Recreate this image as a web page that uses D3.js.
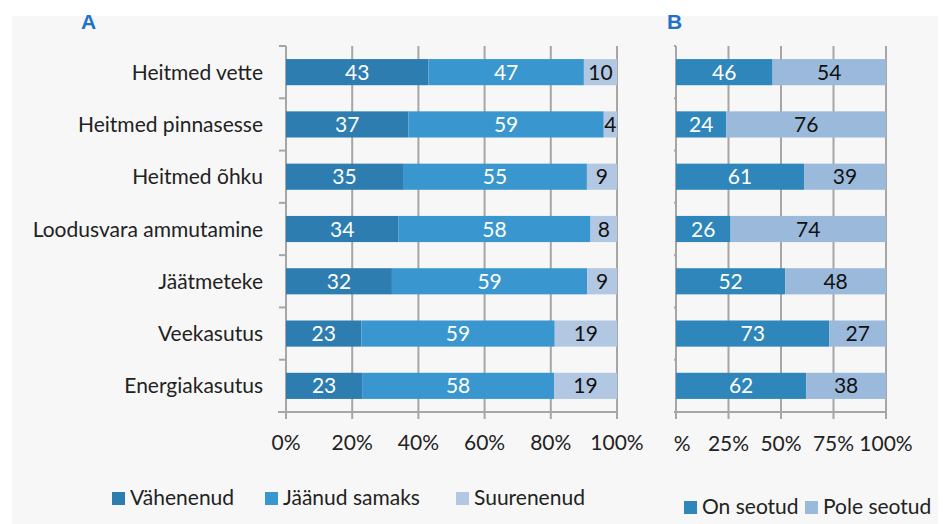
<!DOCTYPE html>
<html>
<head>
<meta charset="utf-8">
<script src="https://cdn.jsdelivr.net/npm/d3@7"></script>
<style>
  body { margin: 0; background: #fff; }
  svg { display: block; font-family: Lato, sans-serif; }
</style>
</head>
<body>
<div class="chart"></div>
<script>
var categories = ["Heitmed vette", "Heitmed pinnasesse", "Heitmed õhku ", "Loodusvara ammutamine",
                  "Jäätmeteke", "Veekasutus", "Energiakasutus"];
var decreased = [43, 37, 35, 34, 32, 23, 23];
var unchanged = [47, 59, 55, 58, 59, 59, 58];
var increased = [10, 4, 9, 8, 9, 19, 19];
var linked = [46, 24, 61, 26, 52, 73, 62];
var notLinked = [54, 76, 39, 74, 48, 27, 38];
var seriesA = ["Vähenenud", "Jäänud samaks", "Suurenenud"];
var seriesB = ["On seotud", "Pole seotud"];
var ticksA = [0, 0.2, 0.4, 0.6, 0.8, 1];
var ticksB = [0, 0.25, 0.5, 0.75, 1];

var colorsA = ["#2d7db0", "#3a96ce", "#b2c7e2"];
var colorsB = ["#2e86bb", "#9bb9db"];
var textA = ["#fff", "#fff", "#111"];
var textB = ["#fff", "#111"];
var fs = 21;

var svg = d3.select(".chart")
  .append("svg")
  .attr("width", 943)
  .attr("height", 524);

// gray panel
svg.append("rect")
  .attr("x", 12).attr("y", 16)
  .attr("width", 926).attr("height", 508)
  .attr("fill", "#f7f7f7");

var y = d3.scaleBand()
  .domain(categories)
  .range([46, 412])
  .paddingInner(0.5)
  .paddingOuter(0.25);

var yEdges = d3.scaleBand().domain(categories).range([46, 412]);

function rows(cols, keys) {
  return categories.map(function(c, i) {
    var r = { cat: c };
    keys.forEach(function(k, j) { r[k] = cols[j][i]; });
    return r;
  });
}

function drawPanel(g, opts) {
  var x = d3.scaleLinear().domain([0, 1]).range([opts.x0, opts.x1]);
  var data = rows(opts.cols, opts.keys);
  var stacked = d3.stack().keys(opts.keys).offset(d3.stackOffsetExpand)(data);

  // gridlines
  g.selectAll(".grid")
    .data(opts.ticks)
    .enter().append("line")
    .attr("x1", function(d) { return x(d); })
    .attr("x2", function(d) { return x(d); })
    .attr("y1", 46).attr("y2", 419)
    .attr("stroke", "#a6a6a6").attr("stroke-width", 2);

  // bottom axis line
  g.append("line")
    .attr("x1", opts.x0 - 8).attr("x2", opts.x1)
    .attr("y1", 412).attr("y2", 412)
    .attr("stroke", "#a6a6a6").attr("stroke-width", 2);

  // left axis tick stubs
  var edges = categories.map(function(c) { return yEdges(c); }).concat([412]);
  g.selectAll(".ytick")
    .data(edges)
    .enter().append("line")
    .attr("x1", opts.x0 - 7).attr("x2", opts.x0)
    .attr("y1", function(d) { return d; })
    .attr("y2", function(d) { return d; })
    .attr("stroke", "#a6a6a6").attr("stroke-width", 2);

  var layer = g.selectAll(".layer")
    .data(stacked)
    .enter().append("g")
    .attr("fill", function(d, i) { return opts.colors[i]; });

  layer.selectAll("rect")
    .data(function(d) { return d; })
    .enter().append("rect")
    .attr("x", function(d) { return x(d[0]); })
    .attr("y", function(d) { return y(d.data.cat); })
    .attr("width", function(d) { return x(d[1]) - x(d[0]); })
    .attr("height", y.bandwidth());

  stacked.forEach(function(s, i) {
    g.selectAll(".lbl" + i)
      .data(s)
      .enter().append("text")
      .attr("x", function(d) { return (x(d[0]) + x(d[1])) / 2; })
      .attr("y", function(d) { return y(d.data.cat) + y.bandwidth() / 2 + 7.5; })
      .attr("text-anchor", "middle")
      .attr("font-size", fs)
      .attr("fill", opts.textColors[i])
      .text(function(d) { return d.data[s.key]; });
  });

  // x tick labels
  g.selectAll(".xlbl")
    .data(opts.ticks)
    .enter().append("text")
    .attr("x", function(d) { return x(d); })
    .attr("y", opts.tickY)
    .attr("text-anchor", "middle")
    .attr("font-size", fs)
    .attr("fill", "#222")
    .text(function(d) { return Math.round(d * 100) + "%"; });

  // legend
  var leg = g.selectAll(".leg")
    .data(opts.keys)
    .enter().append("g")
    .attr("transform", function(d, i) { return "translate(" + opts.legendX[i] + "," + opts.legendY + ")"; });
  leg.append("rect")
    .attr("x", 0).attr("y", -13)
    .attr("width", 13).attr("height", 13)
    .attr("fill", function(d, i) { return opts.colors[i]; });
  leg.append("text")
    .attr("x", 18).attr("y", 0)
    .attr("font-size", fs)
    .attr("fill", "#222")
    .text(function(d) { return d; });
}

// category labels
svg.selectAll(".cat")
  .data(categories)
  .enter().append("text")
  .attr("x", 263)
  .attr("y", function(d) { return y(d) + y.bandwidth() / 2 + 7.5; })
  .attr("text-anchor", "end")
  .attr("font-size", fs)
  .attr("fill", "#222")
  .text(function(d) { return d; });

// panel letters
svg.selectAll(".letter")
  .data([["A", 81], ["B", 667]])
  .enter().append("text")
  .attr("x", function(d) { return d[1]; })
  .attr("y", 29)
  .attr("font-size", 21).attr("font-weight", "bold")
  .attr("fill", "#1f72c4")
  .attr("font-family", "'Liberation Sans', sans-serif")
  .text(function(d) { return d[0]; });

drawPanel(svg.append("g"), {
  x0: 286, x1: 617, cols: [decreased, unchanged, increased], keys: seriesA,
  colors: colorsA, textColors: textA, ticks: ticksA, tickY: 450,
  legendX: [112, 265, 456], legendY: 505
});

svg.append("clipPath").attr("id", "clipB")
  .append("rect").attr("x", 674).attr("y", 0).attr("width", 269).attr("height", 524);

drawPanel(svg.append("g").attr("clip-path", "url(#clipB)"), {
  x0: 676, x1: 886, cols: [linked, notLinked], keys: seriesB,
  colors: colorsB, textColors: textB, ticks: ticksB, tickY: 451,
  legendX: [684, 805], legendY: 514
});
</script>
</body>
</html>
